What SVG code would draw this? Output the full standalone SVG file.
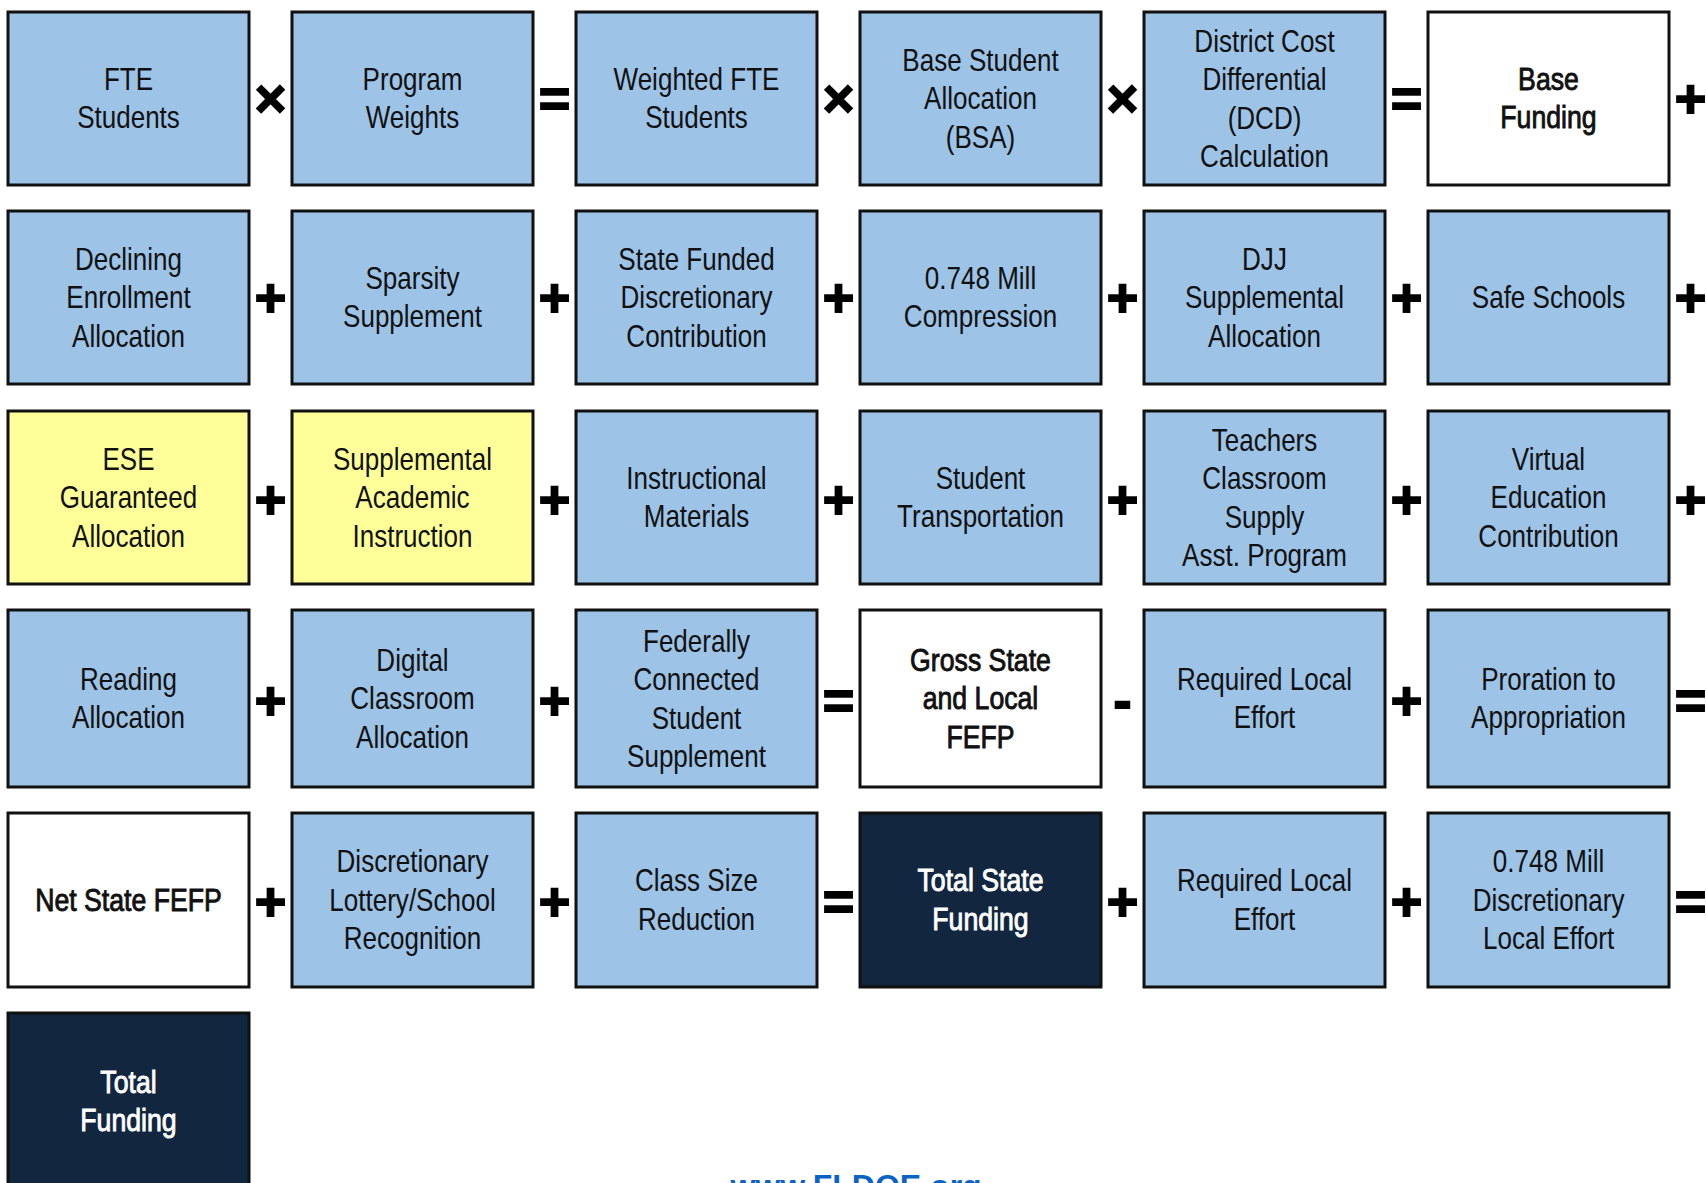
<svg xmlns="http://www.w3.org/2000/svg" width="1706" height="1183" viewBox="0 0 1706 1183">
<style>
.b{fill:#9DC3E6;stroke:#111;stroke-width:3}
.y{fill:#FFFF99;stroke:#111;stroke-width:3}
.w{fill:#FFFFFF;stroke:#111;stroke-width:3}
.n{fill:#12263F;stroke:#111;stroke-width:3}
.t{font-family:"Liberation Sans Narrow","Liberation Sans",Arial,sans-serif;font-size:31px;fill:#111;text-anchor:middle;transform-box:fill-box;transform-origin:center;transform:scaleX(0.84)}
.tb{stroke:#111;stroke-width:0.9;transform:scaleX(0.86)}
.tw{fill:#FFFFFF;stroke:#FFFFFF}
.op{font-family:"Liberation Sans",Arial,sans-serif;font-weight:bold;font-size:54px;fill:#000;stroke:#000;stroke-width:1.8;text-anchor:middle}
.url{font-family:"Liberation Sans",Arial,sans-serif;font-weight:bold;font-size:32px;fill:#0B63C5;text-anchor:middle}
</style>
<rect width="1706" height="1183" fill="#FFFFFF"/>

<!-- Row 1 -->
<g id="fte-students"><rect class="b" x="8" y="12" width="241" height="173"/><text class="t"><tspan x="128.5" y="90">FTE</tspan><tspan x="128.5" y="128.5">Students</tspan></text></g>
<g id="program-weights"><rect class="b" x="292" y="12" width="241" height="173"/><text class="t"><tspan x="412.5" y="90">Program</tspan><tspan x="412.5" y="128.5">Weights</tspan></text></g>
<g id="weighted-fte"><rect class="b" x="576" y="12" width="241" height="173"/><text class="t"><tspan x="696.5" y="90">Weighted FTE</tspan><tspan x="696.5" y="128.5">Students</tspan></text></g>
<g id="bsa"><rect class="b" x="860" y="12" width="241" height="173"/><text class="t"><tspan x="980.5" y="71">Base Student</tspan><tspan x="980.5" y="109.5">Allocation</tspan><tspan x="980.5" y="148">(BSA)</tspan></text></g>
<g id="dcd"><rect class="b" x="1144" y="12" width="241" height="173"/><text class="t"><tspan x="1264.5" y="52">District Cost</tspan><tspan x="1264.5" y="90.5">Differential</tspan><tspan x="1264.5" y="129">(DCD)</tspan><tspan x="1264.5" y="167.5">Calculation</tspan></text></g>
<g id="base-funding"><rect class="w" x="1428" y="12" width="241" height="173"/><text class="t tb"><tspan x="1548.5" y="90">Base</tspan><tspan x="1548.5" y="128.5">Funding</tspan></text></g>

<!-- Row 2 -->
<g id="declining-enrollment"><rect class="b" x="8" y="211" width="241" height="173"/><text class="t"><tspan x="128.5" y="270">Declining</tspan><tspan x="128.5" y="308.5">Enrollment</tspan><tspan x="128.5" y="347">Allocation</tspan></text></g>
<g id="sparsity"><rect class="b" x="292" y="211" width="241" height="173"/><text class="t"><tspan x="412.5" y="289">Sparsity</tspan><tspan x="412.5" y="327.5">Supplement</tspan></text></g>
<g id="state-funded"><rect class="b" x="576" y="211" width="241" height="173"/><text class="t"><tspan x="696.5" y="270">State Funded</tspan><tspan x="696.5" y="308.5">Discretionary</tspan><tspan x="696.5" y="347">Contribution</tspan></text></g>
<g id="mill-compression"><rect class="b" x="860" y="211" width="241" height="173"/><text class="t"><tspan x="980.5" y="289">0.748 Mill</tspan><tspan x="980.5" y="327.5">Compression</tspan></text></g>
<g id="djj"><rect class="b" x="1144" y="211" width="241" height="173"/><text class="t"><tspan x="1264.5" y="270">DJJ</tspan><tspan x="1264.5" y="308.5">Supplemental</tspan><tspan x="1264.5" y="347">Allocation</tspan></text></g>
<g id="safe-schools"><rect class="b" x="1428" y="211" width="241" height="173"/><text class="t"><tspan x="1548.5" y="308.5">Safe Schools</tspan></text></g>

<!-- Row 3 -->
<g id="ese"><rect class="y" x="8" y="411" width="241" height="173"/><text class="t"><tspan x="128.5" y="470">ESE</tspan><tspan x="128.5" y="508.5">Guaranteed</tspan><tspan x="128.5" y="547">Allocation</tspan></text></g>
<g id="supplemental-academic"><rect class="y" x="292" y="411" width="241" height="173"/><text class="t"><tspan x="412.5" y="470">Supplemental</tspan><tspan x="412.5" y="508.5">Academic</tspan><tspan x="412.5" y="547">Instruction</tspan></text></g>
<g id="instructional-materials"><rect class="b" x="576" y="411" width="241" height="173"/><text class="t"><tspan x="696.5" y="489">Instructional</tspan><tspan x="696.5" y="527.5">Materials</tspan></text></g>
<g id="transportation"><rect class="b" x="860" y="411" width="241" height="173"/><text class="t"><tspan x="980.5" y="489">Student</tspan><tspan x="980.5" y="527.5">Transportation</tspan></text></g>
<g id="teachers-supply"><rect class="b" x="1144" y="411" width="241" height="173"/><text class="t"><tspan x="1264.5" y="451">Teachers</tspan><tspan x="1264.5" y="489.5">Classroom</tspan><tspan x="1264.5" y="528">Supply</tspan><tspan x="1264.5" y="566.5">Asst. Program</tspan></text></g>
<g id="virtual-education"><rect class="b" x="1428" y="411" width="241" height="173"/><text class="t"><tspan x="1548.5" y="470">Virtual</tspan><tspan x="1548.5" y="508.5">Education</tspan><tspan x="1548.5" y="547">Contribution</tspan></text></g>

<!-- Row 4 -->
<g id="reading"><rect class="b" x="8" y="610" width="241" height="177"/><text class="t"><tspan x="128.5" y="690">Reading</tspan><tspan x="128.5" y="728.5">Allocation</tspan></text></g>
<g id="digital-classroom"><rect class="b" x="292" y="610" width="241" height="177"/><text class="t"><tspan x="412.5" y="671">Digital</tspan><tspan x="412.5" y="709.5">Classroom</tspan><tspan x="412.5" y="748">Allocation</tspan></text></g>
<g id="federally-connected"><rect class="b" x="576" y="610" width="241" height="177"/><text class="t"><tspan x="696.5" y="652">Federally</tspan><tspan x="696.5" y="690.5">Connected</tspan><tspan x="696.5" y="729">Student</tspan><tspan x="696.5" y="767.5">Supplement</tspan></text></g>
<g id="gross-state-local"><rect class="w" x="860" y="610" width="241" height="177"/><text class="t tb"><tspan x="980.5" y="671">Gross State</tspan><tspan x="980.5" y="709.5">and Local</tspan><tspan x="980.5" y="748">FEFP</tspan></text></g>
<g id="required-local-1"><rect class="b" x="1144" y="610" width="241" height="177"/><text class="t"><tspan x="1264.5" y="690">Required Local</tspan><tspan x="1264.5" y="728.5">Effort</tspan></text></g>
<g id="proration"><rect class="b" x="1428" y="610" width="241" height="177"/><text class="t"><tspan x="1548.5" y="690">Proration to</tspan><tspan x="1548.5" y="728.5">Appropriation</tspan></text></g>

<!-- Row 5 -->
<g id="net-state"><rect class="w" x="8" y="813" width="241" height="174"/><text class="t tb"><tspan x="128.5" y="911">Net State FEFP</tspan></text></g>
<g id="lottery"><rect class="b" x="292" y="813" width="241" height="174"/><text class="t"><tspan x="412.5" y="872.5">Discretionary</tspan><tspan x="412.5" y="911">Lottery/School</tspan><tspan x="412.5" y="949.5">Recognition</tspan></text></g>
<g id="class-size"><rect class="b" x="576" y="813" width="241" height="174"/><text class="t"><tspan x="696.5" y="891.5">Class Size</tspan><tspan x="696.5" y="930">Reduction</tspan></text></g>
<g id="total-state"><rect class="n" x="860" y="813" width="241" height="174"/><text class="t tb tw"><tspan x="980.5" y="891.5">Total State</tspan><tspan x="980.5" y="930">Funding</tspan></text></g>
<g id="required-local-2"><rect class="b" x="1144" y="813" width="241" height="174"/><text class="t"><tspan x="1264.5" y="891.5">Required Local</tspan><tspan x="1264.5" y="930">Effort</tspan></text></g>
<g id="mill-discretionary"><rect class="b" x="1428" y="813" width="241" height="174"/><text class="t"><tspan x="1548.5" y="872.5">0.748 Mill</tspan><tspan x="1548.5" y="911">Discretionary</tspan><tspan x="1548.5" y="949.5">Local Effort</tspan></text></g>

<!-- Row 6 -->
<g id="total-funding"><rect class="n" x="8" y="1013" width="241" height="185"/><text class="t tb tw"><tspan x="128.5" y="1093">Total</tspan><tspan x="128.5" y="1131.5">Funding</tspan></text></g>

<!-- Operators -->
<g id="connectors">
<text class="op" x="270.5" y="117">×</text>
<text class="op" x="554.5" y="117">=</text>
<text class="op" x="838.5" y="117">×</text>
<text class="op" x="1122.5" y="117">×</text>
<text class="op" x="1406.5" y="117">=</text>
<text class="op" x="1690.5" y="117">+</text>

<text class="op" x="270.5" y="316">+</text>
<text class="op" x="554.5" y="316">+</text>
<text class="op" x="838.5" y="316">+</text>
<text class="op" x="1122.5" y="316">+</text>
<text class="op" x="1406.5" y="316">+</text>
<text class="op" x="1690.5" y="316">+</text>

<text class="op" x="270.5" y="518">+</text>
<text class="op" x="554.5" y="518">+</text>
<text class="op" x="838.5" y="518">+</text>
<text class="op" x="1122.5" y="518">+</text>
<text class="op" x="1406.5" y="518">+</text>
<text class="op" x="1690.5" y="518">+</text>

<text class="op" x="270.5" y="719">+</text>
<text class="op" x="554.5" y="719">+</text>
<text class="op" x="838.5" y="719">=</text>
<text class="op" x="1122.5" y="719">-</text>
<text class="op" x="1406.5" y="719">+</text>
<text class="op" x="1690.5" y="719">=</text>

<text class="op" x="270.5" y="920">+</text>
<text class="op" x="554.5" y="920">+</text>
<text class="op" x="838.5" y="920">=</text>
<text class="op" x="1122.5" y="920">+</text>
<text class="op" x="1406.5" y="920">+</text>
<text class="op" x="1690.5" y="920">=</text>
</g>

<text class="url" x="856" y="1197">www.FLDOE.org</text>
</svg>
